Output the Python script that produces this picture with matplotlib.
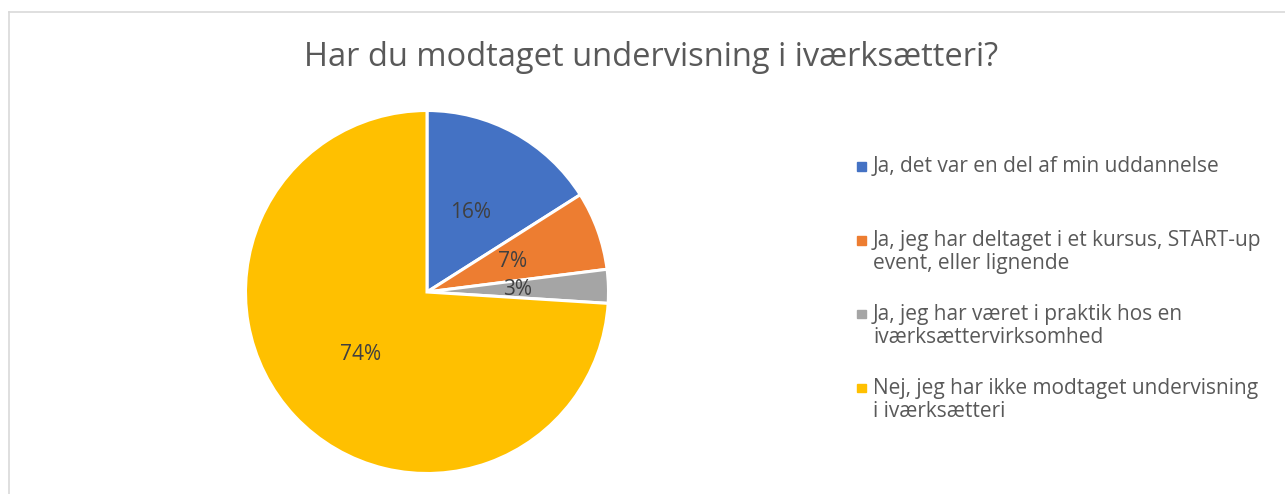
import matplotlib.pyplot as plt
from matplotlib.patches import Rectangle
from matplotlib.lines import Line2D

title = "Har du modtaget undervisning i iværksætteri?"
labels = [
    "Ja, det var en del af min uddannelse",
    "Ja, jeg har deltaget i et kursus, START-up\nevent, eller lignende",
    "Ja, jeg har været i praktik hos en\niværksættervirksomhed",
    "Nej, jeg har ikke modtaget undervisning\ni iværksætteri",
]
shares = [16, 7, 3, 74]
colors = ["#4472c4", "#ed7d31", "#a5a5a5", "#ffc000"]

W, H = 1285, 494
plt.rcParams['font.family'] = ['Open Sans', 'DejaVu Sans']
fig = plt.figure(figsize=(W / 100, H / 100), dpi=100)

# pie placed in pixel coords: centre (427, 292), radius ~181
cx, cy, r = 427, 292, 181.5
ax = fig.add_axes([(cx - r) / W, (H - cy - r) / H, 2 * r / W, 2 * r / H])
wedges, _, autotexts = ax.pie(
    shares, colors=colors, startangle=90, counterclock=False,
    autopct='%1.0f%%', pctdistance=0.5,
    wedgeprops=dict(edgecolor='white', linewidth=2.2),
    textprops=dict(color='#404040', fontsize=15))
ax.set_xlim(-1, 1)
ax.set_ylim(-1, 1)
ax.set_aspect('auto')

fig.text(651 / W, 1 - 57 / H, title, ha='center', va='center',
         fontsize=23.5, color='#595959')

# legend drawn by hand (Excel style, marker on first line)
step = 73.7
for i, (lab, col) in enumerate(zip(labels, colors)):
    y = 166.5 + i * step
    fig.patches.append(Rectangle(((857) / W, 1 - (y + 4.5) / H), 8.5 / W, 8.5 / H,
                                 transform=fig.transFigure, color=col))
    fig.text(873 / W, 1 - (y - 10) / H, lab, ha='left', va='top',
             fontsize=15, color='#595959', linespacing=1.13)

# chart frame (top and left edges visible)
fig.add_artist(Line2D([9 / W, 1], [1 - 12 / H, 1 - 12 / H], color='#d9d9d9', lw=1.2))
fig.add_artist(Line2D([9 / W, 9 / W], [0, 1 - 12 / H], color='#d9d9d9', lw=1.2))

fig.savefig('out.png', dpi=100, facecolor='white')
